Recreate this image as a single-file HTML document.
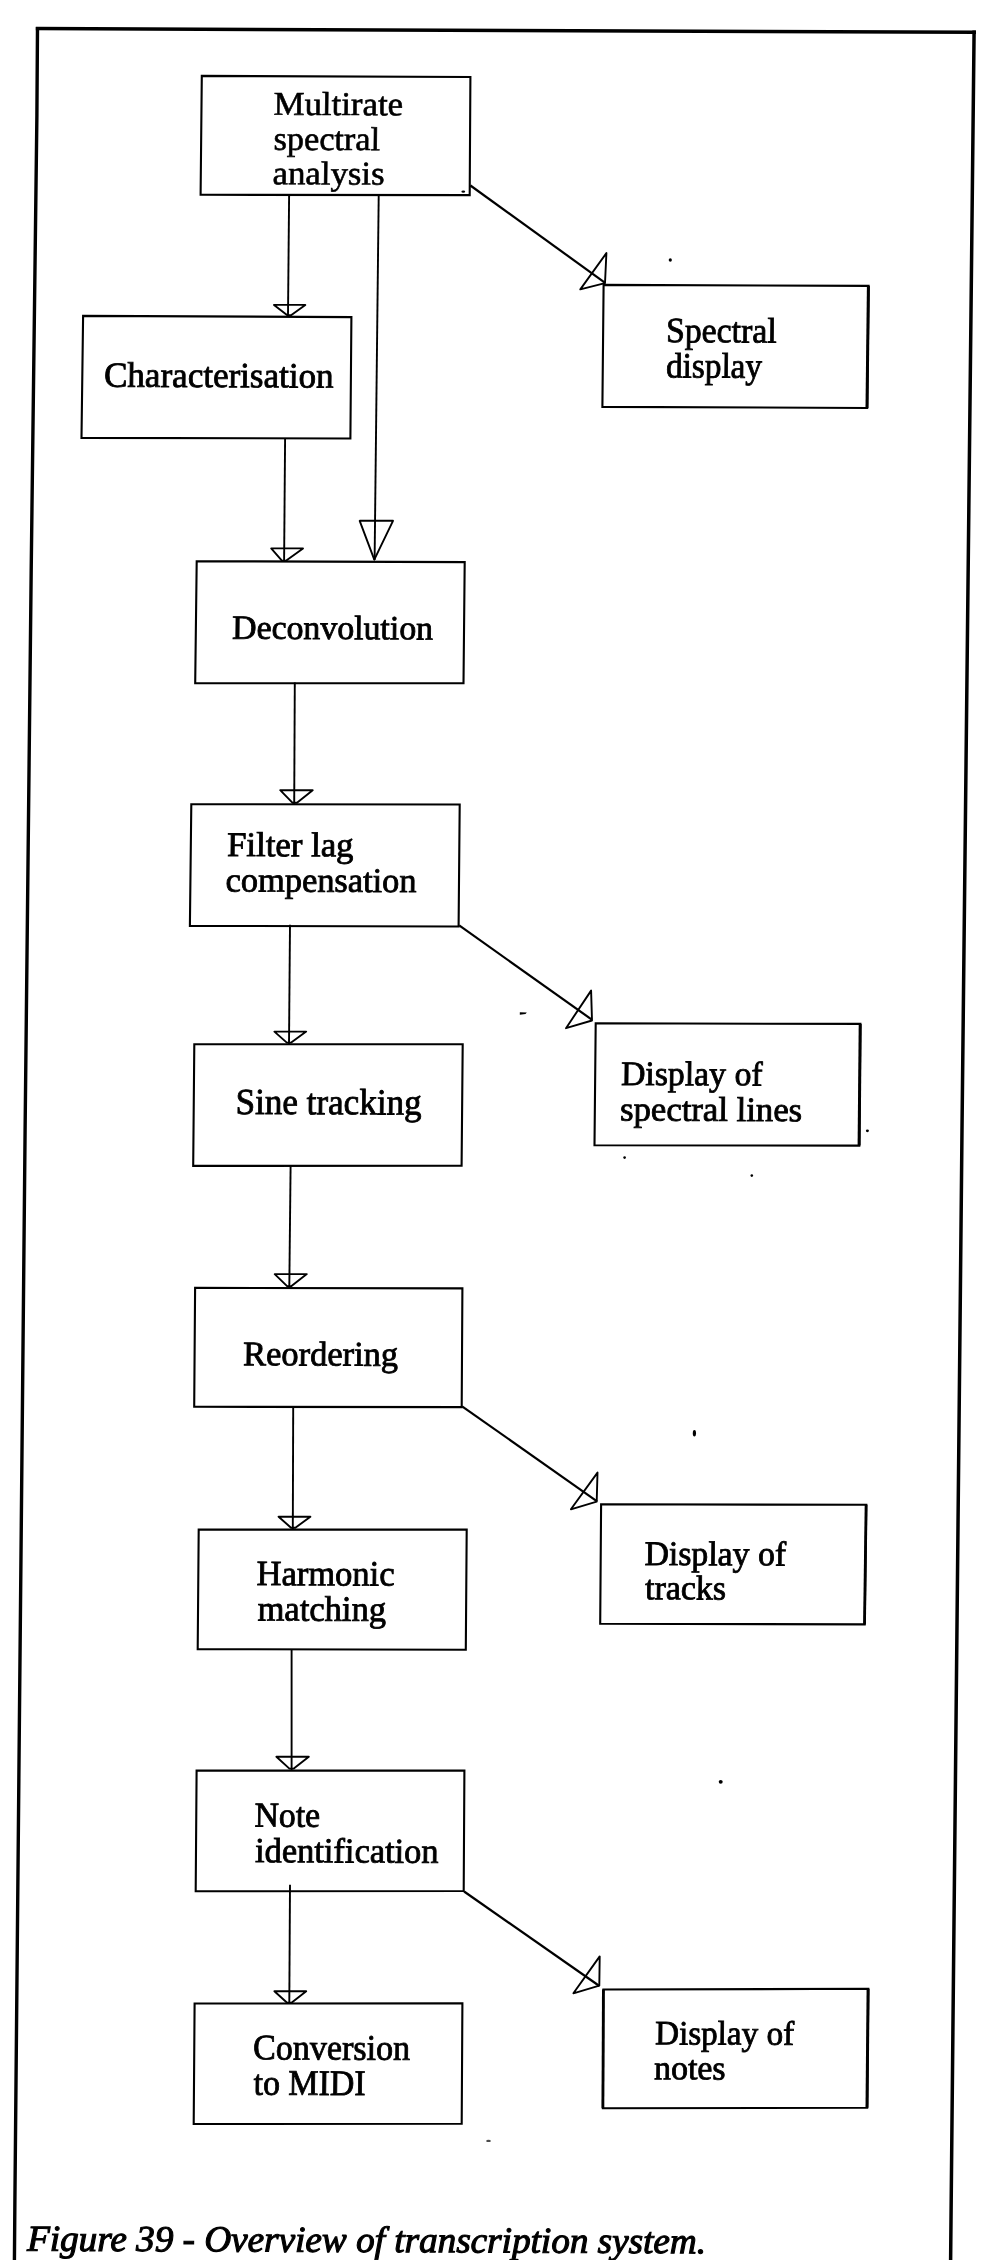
<!DOCTYPE html><html><head><meta charset="utf-8"><style>html,body{margin:0;padding:0;background:#fff;}svg{display:block;will-change:transform;}</style></head><body>
<svg width="987" height="2260" viewBox="0 0 987 2260">
<rect width="987" height="2260" fill="#fff"/>
<polyline points="35.8,28.6 976.0,32.2" fill="none" stroke="#000" stroke-width="3.5" stroke-linejoin="round"/>
<polyline points="37.5,27.0 36.9,115 31.2,570 25.1,1130 19.5,1710 14.9,2200 14.4,2262" fill="none" stroke="#000" stroke-width="3.4" stroke-linejoin="round"/>
<polyline points="974.1,30.5 962.0,1130 951.1,2210 950.6,2262" fill="none" stroke="#000" stroke-width="3.5" stroke-linejoin="round"/>
<polygon points="201.8,75.9 470.4,77.0 469.7,195.1 200.6,194.8" fill="none" stroke="#000" stroke-width="2.1" stroke-linejoin="miter"/>
<polygon points="83.1,315.9 351.4,317.1 350.4,438.5 81.5,437.9" fill="none" stroke="#000" stroke-width="2.1" stroke-linejoin="miter"/>
<polygon points="603.6,284.9 868.6,285.9 867.2,408.0 602.4,406.9" fill="none" stroke="#000" stroke-width="2.1" stroke-linejoin="miter"/>
<polygon points="196.7,561.2 464.7,562.1 463.5,683.2 195.2,683.2" fill="none" stroke="#000" stroke-width="2.1" stroke-linejoin="miter"/>
<polygon points="191.3,804.2 459.7,804.5 458.6,926.5 189.9,925.9" fill="none" stroke="#000" stroke-width="2.1" stroke-linejoin="miter"/>
<polygon points="194.3,1044.2 462.7,1044.2 461.6,1165.6 193.2,1165.9" fill="none" stroke="#000" stroke-width="2.1" stroke-linejoin="miter"/>
<polygon points="595.7,1023.3 860.4,1023.9 859.3,1145.6 594.5,1145.3" fill="none" stroke="#000" stroke-width="2.1" stroke-linejoin="miter"/>
<polygon points="195.1,1287.9 462.4,1288.4 461.7,1407.1 194.2,1406.8" fill="none" stroke="#000" stroke-width="2.1" stroke-linejoin="miter"/>
<polygon points="601.1,1504.3 866.3,1504.8 864.7,1624.4 600.2,1623.8" fill="none" stroke="#000" stroke-width="2.1" stroke-linejoin="miter"/>
<polygon points="198.7,1529.6 466.7,1529.6 465.8,1649.7 197.7,1649.1" fill="none" stroke="#000" stroke-width="2.1" stroke-linejoin="miter"/>
<polygon points="196.6,1770.6 464.4,1770.6 463.7,1891.0 195.7,1891.3" fill="none" stroke="#000" stroke-width="2.1" stroke-linejoin="miter"/>
<polygon points="194.6,2003.5 462.4,2003.2 461.7,2123.7 193.7,2124.0" fill="none" stroke="#000" stroke-width="2.1" stroke-linejoin="miter"/>
<polygon points="603.4,1989.5 868.3,1988.8 867.2,2107.7 602.9,2108.3" fill="none" stroke="#000" stroke-width="2.1" stroke-linejoin="miter"/>
<line x1="868.4" y1="285.9" x2="867.0" y2="408.0" stroke="#000" stroke-width="3.0"/>
<line x1="860.1999999999999" y1="1023.9" x2="859.0999999999999" y2="1145.6" stroke="#000" stroke-width="3.0"/>
<line x1="866.0999999999999" y1="1504.8" x2="864.5" y2="1624.4" stroke="#000" stroke-width="2.8"/>
<line x1="868.0999999999999" y1="1988.8" x2="867.0" y2="2107.7" stroke="#000" stroke-width="3.0"/>
<line x1="603.4" y1="1989.5" x2="602.9" y2="2108.3" stroke="#000" stroke-width="2.8"/>
<line x1="289.1" y1="196" x2="288.0" y2="316" stroke="#000" stroke-width="1.9"/>
<line x1="378.7" y1="196" x2="374.6" y2="560" stroke="#000" stroke-width="1.9"/>
<line x1="285.1" y1="438" x2="284.1" y2="561" stroke="#000" stroke-width="1.9"/>
<line x1="294.8" y1="682.5" x2="294.2" y2="804" stroke="#000" stroke-width="1.9"/>
<line x1="290.0" y1="924.7" x2="289.0" y2="1043.9" stroke="#000" stroke-width="1.9"/>
<line x1="290.6" y1="1166" x2="289.3" y2="1288" stroke="#000" stroke-width="1.9"/>
<line x1="293.2" y1="1408" x2="292.8" y2="1529.7" stroke="#000" stroke-width="1.9"/>
<line x1="291.6" y1="1650" x2="291.6" y2="1770.7" stroke="#000" stroke-width="1.9"/>
<line x1="290.0" y1="1884.8" x2="289.3" y2="2003.2" stroke="#000" stroke-width="1.9"/>
<line x1="470.4" y1="185.5" x2="604.8" y2="282.6" stroke="#000" stroke-width="2.2"/>
<line x1="459.2" y1="925.4" x2="591.8" y2="1019.6" stroke="#000" stroke-width="2.2"/>
<line x1="462.1" y1="1406.3" x2="597.1" y2="1501.3" stroke="#000" stroke-width="2.2"/>
<line x1="464.1" y1="1891.5" x2="599.4" y2="1986.0" stroke="#000" stroke-width="2.2"/>
<polygon points="274.0,304.9 305.3,304.9 291.4,315.1 287.0,315.1" fill="none" stroke="#000" stroke-width="1.9" stroke-linejoin="round"/>
<polygon points="271.2,548.4 303.0,548.4 286.3,560.6 281.90000000000003,560.6" fill="none" stroke="#000" stroke-width="1.9" stroke-linejoin="round"/>
<polygon points="359.7,520.8 393.0,520.8 374.3,559.7" fill="none" stroke="#000" stroke-width="1.9" stroke-linejoin="round"/>
<polygon points="280.2,790.2 312.7,790.2 297.0,802.8000000000001 292.6,802.8000000000001" fill="none" stroke="#000" stroke-width="1.9" stroke-linejoin="round"/>
<polygon points="274.4,1031.6 306.2,1031.6 291.2,1042.6 286.8,1042.6" fill="none" stroke="#000" stroke-width="1.9" stroke-linejoin="round"/>
<polygon points="274.7,1274.1 306.8,1274.1 291.5,1286.1 287.1,1286.1" fill="none" stroke="#000" stroke-width="1.9" stroke-linejoin="round"/>
<polygon points="278.6,1516.7 310.4,1516.7 295.4,1527.6999999999998 291.0,1527.6999999999998" fill="none" stroke="#000" stroke-width="1.9" stroke-linejoin="round"/>
<polygon points="276.4,1756.7 308.8,1756.7 293.8,1768.6 289.40000000000003,1768.6" fill="none" stroke="#000" stroke-width="1.9" stroke-linejoin="round"/>
<polygon points="274.4,1991.2 306.2,1991.2 291.5,2002.8 287.1,2002.8" fill="none" stroke="#000" stroke-width="1.9" stroke-linejoin="round"/>
<polygon points="606.4,253.1 605.0,283.2 580.3,289.4" fill="none" stroke="#000" stroke-width="1.9" stroke-linejoin="round"/>
<polygon points="591.1,990.6 592.0,1020.5 566.0,1028.2" fill="none" stroke="#000" stroke-width="1.9" stroke-linejoin="round"/>
<polygon points="597.5,1472.6 596.7,1501.7 570.9,1509.3" fill="none" stroke="#000" stroke-width="1.9" stroke-linejoin="round"/>
<polygon points="599.7,1956.4 599.3,1985.7 573.4,1993.3" fill="none" stroke="#000" stroke-width="1.9" stroke-linejoin="round"/>
<ellipse cx="670.3" cy="260.0" rx="1.6" ry="1.8" fill="#000" fill-opacity="1.0"/>
<ellipse cx="463.3" cy="191.6" rx="1.9" ry="1.2" fill="#000" fill-opacity="1.0"/>
<ellipse cx="867.4" cy="1130.8" rx="1.5" ry="1.4" fill="#000" fill-opacity="1.0"/>
<ellipse cx="624.6" cy="1157.6" rx="1.3" ry="1.3" fill="#000" fill-opacity="1.0"/>
<ellipse cx="751.8" cy="1175.6" rx="1.3" ry="1.3" fill="#000" fill-opacity="1.0"/>
<ellipse cx="694.4" cy="1433.3" rx="1.6" ry="3.2" fill="#000" fill-opacity="1.0"/>
<ellipse cx="720.7" cy="1781.8" rx="2.0" ry="1.9" fill="#000" fill-opacity="1.0"/>
<ellipse cx="488.5" cy="2140.9" rx="2.3" ry="1.2" fill="#000" fill-opacity="0.7"/>
<polygon points="519.8,1012.2 526.8,1012.4 525.5,1014.0 519.8,1014.8" fill="#000"/>
<text x="273.50" y="114.80" font-size="33.25" textLength="129.52" lengthAdjust="spacingAndGlyphs" transform="matrix(1,0.0038,-0.0104,1,1.194,-1.039)" style="font-family:'Liberation Serif', serif;" fill="#000" stroke="#000" stroke-width="0.6">Multirate</text>
<text x="273.50" y="149.80" font-size="33.25" textLength="106.51" lengthAdjust="spacingAndGlyphs" transform="matrix(1,0.0038,-0.0104,1,1.558,-1.039)" style="font-family:'Liberation Serif', serif;" fill="#000" stroke="#000" stroke-width="0.6">spectral</text>
<text x="272.50" y="184.20" font-size="33.25" textLength="112.02" lengthAdjust="spacingAndGlyphs" transform="matrix(1,0.0038,-0.0104,1,1.916,-1.036)" style="font-family:'Liberation Serif', serif;" fill="#000" stroke="#000" stroke-width="0.6">analysis</text>
<text x="104.00" y="386.70" font-size="35.47" textLength="229.52" lengthAdjust="spacingAndGlyphs" transform="matrix(1,0.0038,-0.0104,1,4.022,-0.395)" style="font-family:'Liberation Serif', serif;" fill="#000" stroke="#000" stroke-width="0.85">Characterisation</text>
<text x="666.00" y="342.10" font-size="35.47" textLength="110.53" lengthAdjust="spacingAndGlyphs" transform="matrix(1,0.0038,-0.0104,1,3.558,-2.531)" style="font-family:'Liberation Serif', serif;" fill="#000" stroke="#000" stroke-width="0.85">Spectral</text>
<text x="666.00" y="377.40" font-size="35.47" textLength="96.00" lengthAdjust="spacingAndGlyphs" transform="matrix(1,0.0038,-0.0104,1,3.925,-2.531)" style="font-family:'Liberation Serif', serif;" fill="#000" stroke="#000" stroke-width="0.85">display</text>
<text x="232.00" y="638.70" font-size="33.87" textLength="201.00" lengthAdjust="spacingAndGlyphs" transform="matrix(1,0.0038,-0.0104,1,6.642,-0.882)" style="font-family:'Liberation Serif', serif;" fill="#000" stroke="#000" stroke-width="0.85">Deconvolution</text>
<text x="227.00" y="856.00" font-size="34.47" textLength="126.51" lengthAdjust="spacingAndGlyphs" transform="matrix(1,0.0038,-0.0104,1,8.902,-0.863)" style="font-family:'Liberation Serif', serif;" fill="#000" stroke="#000" stroke-width="0.85">Filter lag</text>
<text x="225.50" y="891.40" font-size="34.47" textLength="191.01" lengthAdjust="spacingAndGlyphs" transform="matrix(1,0.0038,-0.0104,1,9.271,-0.857)" style="font-family:'Liberation Serif', serif;" fill="#000" stroke="#000" stroke-width="0.85">compensation</text>
<text x="235.50" y="1113.90" font-size="36.67" textLength="186.02" lengthAdjust="spacingAndGlyphs" transform="matrix(1,0.0038,-0.0104,1,11.585,-0.895)" style="font-family:'Liberation Serif', serif;" fill="#000" stroke="#000" stroke-width="0.85">Sine tracking</text>
<text x="621.00" y="1084.90" font-size="34.27" textLength="141.50" lengthAdjust="spacingAndGlyphs" transform="matrix(1,0.0038,-0.0104,1,11.283,-2.360)" style="font-family:'Liberation Serif', serif;" fill="#000" stroke="#000" stroke-width="0.85">Display of</text>
<text x="620.00" y="1120.50" font-size="34.27" textLength="182.03" lengthAdjust="spacingAndGlyphs" transform="matrix(1,0.0038,-0.0104,1,11.653,-2.356)" style="font-family:'Liberation Serif', serif;" fill="#000" stroke="#000" stroke-width="0.85">spectral lines</text>
<text x="243.00" y="1365.20" font-size="34.57" textLength="155.00" lengthAdjust="spacingAndGlyphs" transform="matrix(1,0.0038,-0.0104,1,14.198,-0.923)" style="font-family:'Liberation Serif', serif;" fill="#000" stroke="#000" stroke-width="0.85">Reordering</text>
<text x="644.50" y="1564.90" font-size="34.47" textLength="141.51" lengthAdjust="spacingAndGlyphs" transform="matrix(1,0.0038,-0.0104,1,16.275,-2.449)" style="font-family:'Liberation Serif', serif;" fill="#000" stroke="#000" stroke-width="0.85">Display of</text>
<text x="645.00" y="1599.20" font-size="34.47" textLength="81.01" lengthAdjust="spacingAndGlyphs" transform="matrix(1,0.0038,-0.0104,1,16.632,-2.451)" style="font-family:'Liberation Serif', serif;" fill="#000" stroke="#000" stroke-width="0.85">tracks</text>
<text x="256.50" y="1585.10" font-size="35.47" textLength="138.01" lengthAdjust="spacingAndGlyphs" transform="matrix(1,0.0038,-0.0104,1,16.485,-0.975)" style="font-family:'Liberation Serif', serif;" fill="#000" stroke="#000" stroke-width="0.85">Harmonic</text>
<text x="257.50" y="1620.50" font-size="35.47" textLength="128.50" lengthAdjust="spacingAndGlyphs" transform="matrix(1,0.0038,-0.0104,1,16.853,-0.979)" style="font-family:'Liberation Serif', serif;" fill="#000" stroke="#000" stroke-width="0.85">matching</text>
<text x="254.50" y="1826.60" font-size="34.97" textLength="65.54" lengthAdjust="spacingAndGlyphs" transform="matrix(1,0.0038,-0.0104,1,18.997,-0.967)" style="font-family:'Liberation Serif', serif;" fill="#000" stroke="#000" stroke-width="0.85">Note</text>
<text x="255.00" y="1862.10" font-size="34.97" textLength="183.50" lengthAdjust="spacingAndGlyphs" transform="matrix(1,0.0038,-0.0104,1,19.366,-0.969)" style="font-family:'Liberation Serif', serif;" fill="#000" stroke="#000" stroke-width="0.85">identification</text>
<text x="253.00" y="2059.30" font-size="35.87" textLength="157.01" lengthAdjust="spacingAndGlyphs" transform="matrix(1,0.0038,-0.0104,1,21.417,-0.961)" style="font-family:'Liberation Serif', serif;" fill="#000" stroke="#000" stroke-width="0.85">Conversion</text>
<text x="253.50" y="2094.70" font-size="35.87" textLength="112.01" lengthAdjust="spacingAndGlyphs" transform="matrix(1,0.0038,-0.0104,1,21.785,-0.963)" style="font-family:'Liberation Serif', serif;" fill="#000" stroke="#000" stroke-width="0.85">to MIDI</text>
<text x="655.00" y="2044.30" font-size="34.07" textLength="139.00" lengthAdjust="spacingAndGlyphs" transform="matrix(1,0.0038,-0.0104,1,21.261,-2.489)" style="font-family:'Liberation Serif', serif;" fill="#000" stroke="#000" stroke-width="0.85">Display of</text>
<text x="654.00" y="2079.20" font-size="34.07" textLength="71.53" lengthAdjust="spacingAndGlyphs" transform="matrix(1,0.0038,-0.0104,1,21.624,-2.485)" style="font-family:'Liberation Serif', serif;" fill="#000" stroke="#000" stroke-width="0.85">notes</text>
<text x="27.00" y="2250.70" font-size="36.60" textLength="679.01" lengthAdjust="spacingAndGlyphs" transform="matrix(1,0.0038,-0.0104,1,23.407,-0.103)" style="font-family:'Liberation Serif', serif;font-style:italic;" fill="#000" stroke="#000" stroke-width="1.1">Figure 39 - Overview of transcription system.</text>
</svg></body></html>
